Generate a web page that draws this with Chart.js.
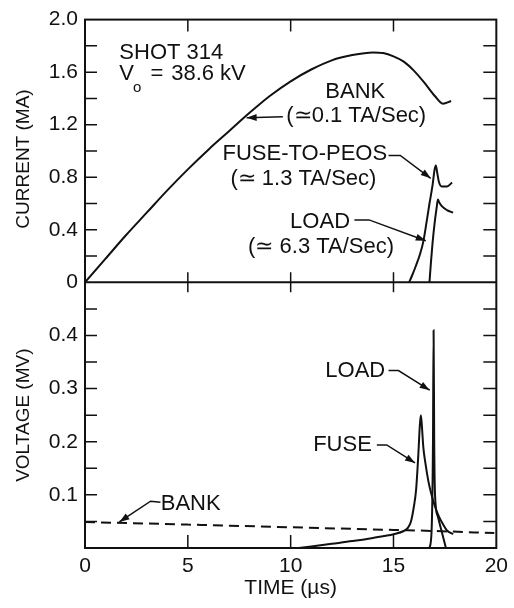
<!DOCTYPE html>
<html>
<head>
<meta charset="utf-8">
<script src="https://cdn.jsdelivr.net/npm/chart.js@4.4.1/dist/chart.umd.min.js"></script>
<style>
  html, body { margin: 0; padding: 0; background: #fff; }
  #wrap { width: 514px; height: 608px; }
</style>
</head>
<body>
<div id="wrap"><canvas id="chart" width="514" height="608"></canvas></div>
<script>
// axis ticks
const timeTicks = [0, 5, 10, 15, 20];
const currentTicks = [0, 0.4, 0.8, 1.2, 1.6, 2.0];
const currentMinorTicks = [0.2, 0.4, 0.6, 0.8, 1.0, 1.2, 1.4, 1.6, 1.8];
const voltageTicks = [0.1, 0.2, 0.3, 0.4];
const voltageMinorTicks = [0.05, 0.1, 0.15, 0.2, 0.25, 0.3, 0.35, 0.4, 0.45];

// current traces (MA) vs time (us)
const bankCurrentT = [0, 1, 2, 3, 4, 5, 6, 7, 8, 9, 10, 11, 12, 13, 14, 14.5, 15, 15.5, 16, 16.5, 17, 17.4, 17.8];
const bankCurrentI = [0, 0.18, 0.36, 0.53, 0.70, 0.86, 1.01, 1.15, 1.29, 1.42, 1.53, 1.62, 1.69, 1.73, 1.75, 1.745, 1.72, 1.68, 1.61, 1.52, 1.42, 1.36, 1.38];
const fuseCurrentT = [15.76, 15.9, 16.1, 16.3, 16.45, 16.6, 16.75, 16.9, 17.0, 17.06, 17.12, 17.2, 17.35, 17.6, 17.85];
const fuseCurrentI = [0, 0.05, 0.13, 0.22, 0.31, 0.45, 0.60, 0.74, 0.86, 0.89, 0.84, 0.77, 0.73, 0.73, 0.76];
const loadCurrentT = [16.75, 16.82, 16.9, 17.0, 17.1, 17.16, 17.22, 17.35, 17.6, 17.9];
const loadCurrentI = [0, 0.15, 0.30, 0.45, 0.57, 0.63, 0.61, 0.58, 0.55, 0.53];

// voltage traces (MV) vs time (us)
const bankVoltageT = [0, 5, 10, 15, 17, 19.9];
const bankVoltageV = [0.049, 0.044, 0.039, 0.034, 0.032, 0.028];
const fuseVoltageT = [10.4, 11, 12, 13, 14, 15, 15.5, 15.7, 15.85, 16.0, 16.1, 16.2, 16.28, 16.33, 16.38, 16.45, 16.55, 16.7, 16.85, 17.0, 17.2, 17.4, 17.6, 17.9];
const fuseVoltageV = [0, 0.003, 0.008, 0.013, 0.019, 0.026, 0.032, 0.038, 0.05, 0.08, 0.11, 0.17, 0.23, 0.25, 0.23, 0.19, 0.16, 0.125, 0.10, 0.08, 0.06, 0.045, 0.033, 0.026];
const loadVoltageT = [16.75, 16.85, 16.92, 16.95, 16.98, 17.02, 17.15, 17.35, 17.55];
const loadVoltageV = [0, 0.03, 0.2, 0.41, 0.2, 0.1, 0.06, 0.03, 0];

const FONT = '"Liberation Sans", Arial, Helvetica, sans-serif';
const INK = '#111';

function points(ts, vs) {
    return ts.map((t, i) => ({ x: t, y: vs[i] }));
}

function trace(data, axis, dashed) {
    return {
        data: data,
        yAxisID: axis,
        borderColor: INK,
        borderWidth: 2,
        borderDash: dashed ? [10, 6] : [],
        pointRadius: 0,
        fill: false,
        cubicInterpolationMode: 'monotone'
    };
}

function arrowHead(ctx, fx, fy, tx, ty) {
    const a = Math.atan2(ty - fy, tx - fx);
    const len = 10, w = 3.5;
    ctx.beginPath();
    ctx.moveTo(tx, ty);
    ctx.lineTo(tx - len * Math.cos(a) + w * Math.sin(a), ty - len * Math.sin(a) - w * Math.cos(a));
    ctx.lineTo(tx - len * Math.cos(a) - w * Math.sin(a), ty - len * Math.sin(a) + w * Math.cos(a));
    ctx.closePath();
    ctx.fill();
}

const framePlugin = {
    id: 'frame',
    afterDraw(chart) {
        const ctx = chart.ctx;
        const xs = chart.scales.x, yI = chart.scales.yI, yV = chart.scales.yV;
        const left = xs.left, right = xs.right;
        const top = yI.top, mid = yI.bottom, bottom = yV.bottom;

        ctx.save();
        ctx.strokeStyle = INK;
        ctx.fillStyle = INK;
        ctx.lineWidth = 2;
        ctx.strokeRect(left, top, right - left, bottom - top);
        ctx.beginPath();
        ctx.moveTo(left, mid);
        ctx.lineTo(right, mid);
        ctx.stroke();

        // inward ticks
        ctx.lineWidth = 1.5;
        ctx.beginPath();
        currentMinorTicks.forEach(v => {
            const y = yI.getPixelForValue(v);
            ctx.moveTo(left, y); ctx.lineTo(left + 12, y);
            ctx.moveTo(right, y); ctx.lineTo(right - 13, y);
        });
        voltageMinorTicks.forEach(v => {
            const y = yV.getPixelForValue(v);
            ctx.moveTo(left, y); ctx.lineTo(left + 12, y);
            ctx.moveTo(right, y); ctx.lineTo(right - 13, y);
        });
        timeTicks.slice(1, -1).forEach(t => {
            const x = xs.getPixelForValue(t);
            ctx.moveTo(x, top); ctx.lineTo(x, top + 12);
            ctx.moveTo(x, mid - 10); ctx.lineTo(x, mid + 10);
            ctx.moveTo(x, bottom); ctx.lineTo(x, bottom - 13);
        });
        ctx.stroke();

        // axis titles
        ctx.font = '19px ' + FONT;
        ctx.textAlign = 'center';
        ctx.textBaseline = 'middle';
        ctx.save();
        ctx.translate(24, 159);
        ctx.rotate(-Math.PI / 2);
        ctx.fillText('CURRENT (MA)', 0, 0);
        ctx.restore();
        ctx.save();
        ctx.translate(24, (mid + bottom) / 2);
        ctx.rotate(-Math.PI / 2);
        ctx.fillText('VOLTAGE (MV)', 0, 0);
        ctx.restore();
        ctx.font = '21px ' + FONT;
        ctx.fillText('TIME (\u00b5s)', (left + right) / 2, 588);

        // annotations
        const px = (axis, t, v) => [xs.getPixelForValue(t), chart.scales[axis].getPixelForValue(v)];
        ctx.font = '22px ' + FONT;
        const text = (s, axis, t, v, align) => {
            const p = px(axis, t, v);
            ctx.textAlign = align || 'center';
            ctx.fillText(s, p[0], p[1]);
        };
        text('SHOT 314', 'yI', 1.67, 1.743, 'left');
        text('V', 'yI', 1.67, 1.585, 'left');
        ctx.font = '15px ' + FONT;
        text('o', 'yI', 2.33, 1.479, 'left');
        ctx.font = '22px ' + FONT;
        text('=', 'yI', 3.19, 1.585, 'left');
        text('38.6 kV', 'yI', 4.19, 1.585, 'left');
        text('BANK', 'yI', 13.14, 1.449);
        text('(\u22430.1 TA/Sec)', 'yI', 13.19, 1.268);
        text('FUSE-TO-PEOS', 'yI', 10.69, 0.981);
        text('(\u2243 1.3 TA/Sec)', 'yI', 10.62, 0.785);
        text('LOAD', 'yI', 11.43, 0.46);
        text('(\u2243 6.3 TA/Sec)', 'yI', 11.48, 0.272);
        text('LOAD', 'yV', 13.14, 0.334);
        text('FUSE', 'yV', 12.52, 0.194);
        text('BANK', 'yV', 5.14, 0.082);

        const leader = (axis, pts) => {
            const p = pts.map(q => px(axis, q[0], q[1]));
            ctx.lineWidth = 1.5;
            ctx.beginPath();
            ctx.moveTo(p[0][0], p[0][1]);
            for (let i = 1; i < p.length; i++) ctx.lineTo(p[i][0], p[i][1]);
            ctx.stroke();
            const a = p[p.length - 2], b = p[p.length - 1];
            arrowHead(ctx, a[0], a[1], b[0], b[1]);
        };
        leader('yI', [[9.62, 1.26], [7.86, 1.253]]);
        leader('yI', [[14.76, 0.966], [15.33, 0.966], [16.81, 0.792]]);
        leader('yI', [[13.1, 0.475], [13.81, 0.475], [16.57, 0.317]]);
        leader('yV', [[14.76, 0.334], [15.24, 0.334], [16.76, 0.297]]);
        leader('yV', [[14.19, 0.194], [14.67, 0.194], [16.05, 0.160]]);
        leader('yV', [[3.67, 0.086], [3.19, 0.088], [1.67, 0.049]]);
        ctx.restore();
    }
};

const tickFont = { family: FONT, size: 21 };

new Chart(document.getElementById('chart'), {
    type: 'line',
    data: {
        datasets: [
            trace(points(bankCurrentT, bankCurrentI), 'yI'),
            trace(points(fuseCurrentT, fuseCurrentI), 'yI'),
            trace(points(loadCurrentT, loadCurrentI), 'yI'),
            trace(points(bankVoltageT, bankVoltageV), 'yV', true),
            trace(points(fuseVoltageT, fuseVoltageV), 'yV'),
            trace(points(loadVoltageT, loadVoltageV), 'yV')
        ]
    },
    options: {
        responsive: false,
        animation: false,
        layout: { padding: { top: 15, right: 9, left: 0, bottom: 0 } },
        plugins: { legend: { display: false }, tooltip: { enabled: false } },
        scales: {
            x: {
                type: 'linear', min: 0, max: 20,
                afterBuildTicks: s => { s.ticks = timeTicks.map(v => ({ value: v })); },
                afterFit: s => { s.height = 60; },
                grid: { display: false, drawTicks: false },
                border: { display: false },
                ticks: { font: tickFont, color: INK, padding: 6, maxRotation: 0 }
            },
            // bottom panel is declared first so the stack places current on top
            yV: {
                type: 'linear', position: 'left', stack: 'panels', stackWeight: 268,
                min: 0, max: 0.5,
                afterBuildTicks: s => { s.ticks = voltageTicks.map(v => ({ value: v })); },
                afterFit: s => { s.width = 85; },
                grid: { display: false, drawTicks: false },
                border: { display: false },
                ticks: { font: tickFont, color: INK, padding: 7, callback: v => v.toFixed(1) }
            },
            yI: {
                type: 'linear', position: 'left', stack: 'panels', stackWeight: 265,
                min: 0, max: 2,
                afterBuildTicks: s => { s.ticks = currentTicks.map(v => ({ value: v })); },
                afterFit: s => { s.width = 85; },
                grid: { display: false, drawTicks: false },
                border: { display: false },
                ticks: { font: tickFont, color: INK, padding: 7, callback: v => v === 0 ? '0' : v.toFixed(1) }
            }
        }
    },
    plugins: [framePlugin]
});
</script>
</body>
</html>
